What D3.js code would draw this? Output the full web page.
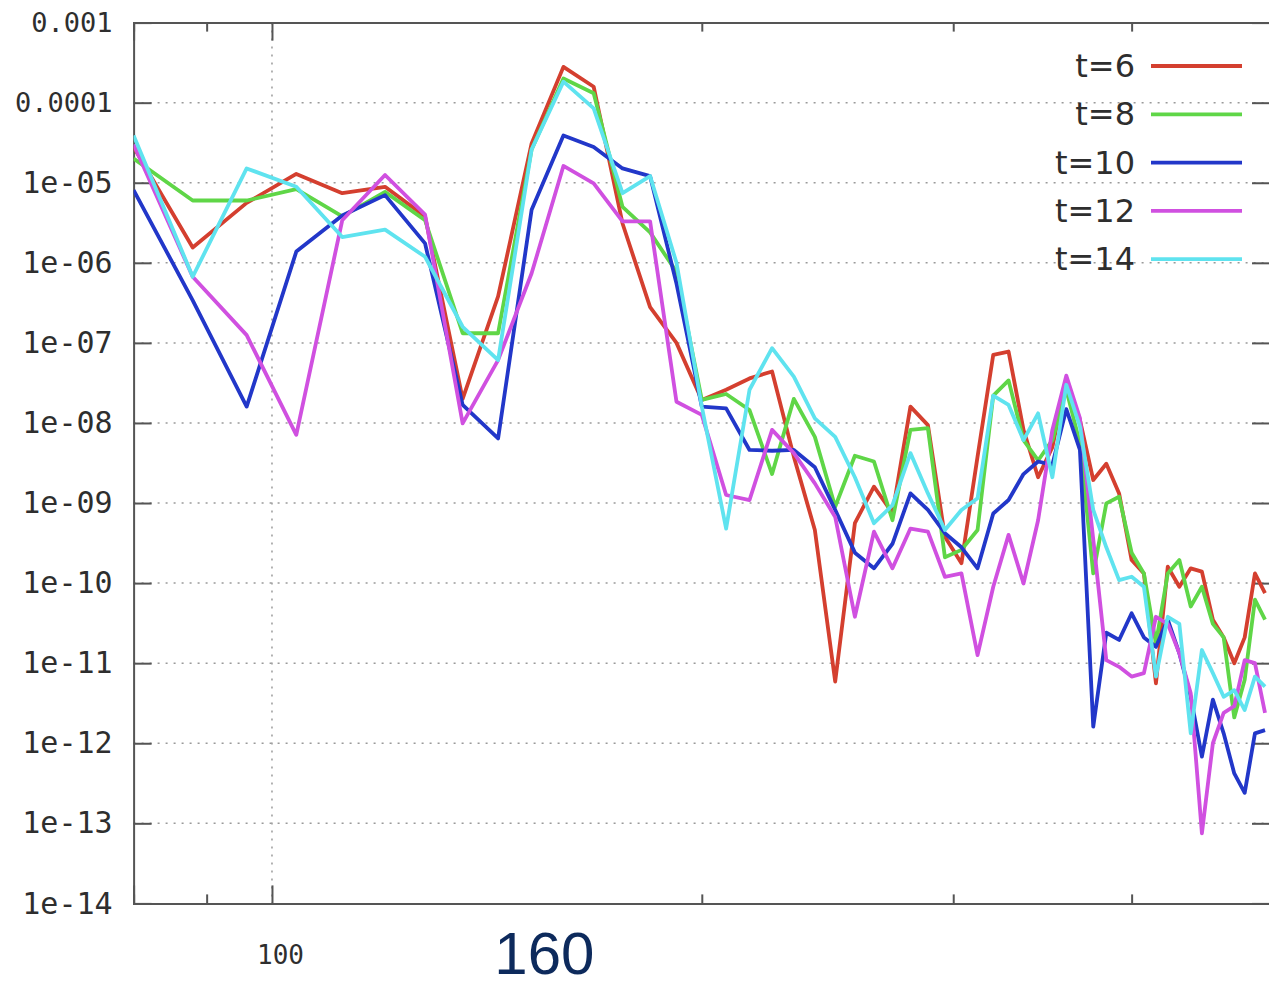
<!DOCTYPE html>
<html>
<head>
<meta charset="utf-8">
<script src="https://cdn.jsdelivr.net/npm/d3@7"></script>
<style>
  body { margin: 0; background: #fff; }
  svg { display: block; }
</style>
</head>
<body>
<div id="chart"></div>
<script>
// x positions of the samples (log axis)
const xValues = [80, 88, 96, 104, 112, 120, 128, 136, 144, 152, 160, 168, 176, 184, 192, 200,
    208, 216, 224, 232, 240, 248, 256, 264, 272, 280, 288, 296, 304, 312, 320, 328, 336, 344,
    352, 360, 368, 376, 384, 392, 400, 408, 416, 424, 432, 440, 448, 456, 464, 472, 480, 488, 496];

const seriesNames = ["t=6", "t=8", "t=10", "t=12", "t=14"];

const t6 = [2.8e-5, 1.55e-6, 5.6e-6, 1.29e-5, 7.4e-6, 8.9e-6, 3.8e-6, 2.0e-8, 3.8e-7, 3.1e-5,
    2.8e-4, 1.58e-4, 3.1e-6, 2.8e-7, 1.0e-7, 1.94e-8, 2.6e-8, 3.6e-8, 4.4e-8, 3.8e-9,
    4.6e-10, 5.9e-12, 5.6e-10, 1.6e-9, 7.5e-10, 1.6e-8, 9.4e-9, 3.8e-10, 1.77e-10, 3.8e-9,
    7.1e-8, 7.8e-8, 8.2e-9, 2.1e-9, 5.0e-9, 3.4e-8, 1.09e-8, 1.94e-9, 3.1e-9, 1.32e-9,
    1.94e-10, 1.32e-10, 5.6e-12, 1.6e-10, 9.0e-11, 1.53e-10, 1.39e-10, 3.5e-11, 2.1e-11, 1.0e-11,
    2.1e-11, 1.32e-10, 7.5e-11];

const t8 = [2.0e-5, 6.0e-6, 6.0e-6, 8.3e-6, 3.8e-6, 7.7e-6, 3.4e-6, 1.32e-7, 1.32e-7, 2.6e-5,
    2.0e-4, 1.31e-4, 5.0e-6, 2.4e-6, 7.7e-7, 1.94e-8, 2.3e-8, 1.45e-8, 2.3e-9, 2.0e-8,
    6.7e-9, 9.0e-10, 3.9e-9, 3.3e-9, 6.1e-10, 8.2e-9, 8.6e-9, 2.1e-10, 2.6e-10, 4.6e-10,
    2.2e-8, 3.4e-8, 6.1e-9, 3.4e-9, 6.1e-9, 2.6e-8, 5.6e-9, 1.32e-10, 9.9e-10, 1.2e-9,
    2.4e-10, 1.32e-10, 1.77e-11, 1.32e-10, 1.94e-10, 5.1e-11, 9.0e-11, 3.1e-11, 2.1e-11, 2.1e-12,
    6.2e-12, 6.2e-11, 3.5e-11];

const t10 = [8.1e-6, 3.4e-7, 1.6e-8, 1.38e-6, 3.9e-6, 7.0e-6, 1.75e-6, 1.68e-8, 6.4e-9, 4.6e-6,
    3.9e-5, 2.8e-5, 1.51e-5, 1.21e-5, 5.5e-7, 1.6e-8, 1.52e-8, 4.6e-9, 4.5e-9, 4.6e-9,
    2.8e-9, 8.2e-10, 2.4e-10, 1.53e-10, 3.1e-10, 1.32e-9, 8.2e-10, 4.2e-10, 2.8e-10, 1.53e-10,
    7.4e-10, 1.09e-9, 2.3e-9, 3.3e-9, 3.0e-9, 1.49e-8, 4.6e-9, 1.61e-12, 2.4e-11, 1.95e-11,
    4.2e-11, 2.1e-11, 1.6e-11, 3.5e-11, 1.33e-11, 3.8e-12, 6.8e-13, 3.5e-12, 1.33e-12, 4.2e-13,
    2.4e-13, 1.33e-12, 1.46e-12];

const t12 = [3.0e-5, 6.7e-7, 1.25e-7, 7.1e-9, 3.4e-6, 1.25e-5, 4.0e-6, 9.9e-9, 6.1e-8, 7.4e-7,
    1.62e-5, 9.8e-6, 3.3e-6, 3.3e-6, 1.84e-8, 1.26e-8, 1.26e-9, 1.09e-9, 8.2e-9, 4.2e-9,
    1.76e-9, 6.7e-10, 3.8e-11, 4.4e-10, 1.53e-10, 4.8e-10, 4.4e-10, 1.2e-10, 1.32e-10, 1.26e-11,
    9.0e-11, 4.0e-10, 9.9e-11, 6.1e-10, 8.2e-9, 3.9e-8, 1.15e-8, 3.5e-10, 1.09e-11, 9.0e-12,
    6.8e-12, 7.5e-12, 3.8e-11, 3.1e-11, 1.33e-11, 4.2e-12, 7.5e-14, 1.0e-12, 2.4e-12, 2.9e-12,
    1.09e-11, 1.0e-11, 2.4e-12];

const t14 = [3.9e-5, 6.7e-7, 1.51e-5, 8.9e-6, 2.1e-6, 2.6e-6, 1.19e-6, 1.59e-7, 6.1e-8, 2.6e-5,
    1.83e-4, 8.5e-5, 7.4e-6, 1.21e-5, 1.0e-6, 1.6e-8, 4.8e-10, 2.6e-8, 8.6e-8, 3.8e-8,
    1.14e-8, 6.7e-9, 2.1e-9, 5.6e-10, 9.4e-10, 4.2e-9, 1.32e-9, 4.6e-10, 8.2e-10, 1.15e-9,
    2.2e-8, 1.68e-8, 6.1e-9, 1.32e-8, 2.1e-9, 3.0e-8, 9.0e-9, 8.2e-10, 2.8e-10, 1.09e-10,
    1.2e-10, 9.0e-11, 6.8e-12, 3.8e-11, 3.1e-11, 1.33e-12, 1.46e-11, 7.5e-12, 3.8e-12, 4.6e-12,
    2.6e-12, 6.8e-12, 5.1e-12];

const yTickValues = [1e-3, 1e-4, 1e-5, 1e-6, 1e-7, 1e-8, 1e-9, 1e-10, 1e-11, 1e-12, 1e-13, 1e-14];
const xMajorTicks = [100];
const xMinorTicks = [90, 200, 300, 400, 500];
const annotation = 160;

const colors = ["#d43f2f", "#5fd647", "#2237c9", "#d050e0", "#5fe3ef"];
const allSeries = [t6, t8, t10, t12, t14];

const W = 1269, H = 988;
const margin = { left: 133.6, top: 22.6, right: 1270, bottom: 903.4 };

const x = d3.scaleLog().domain([80, 500]).range([margin.left, margin.right]);
const y = d3.scaleLog().domain([1e-14, 1e-3]).range([margin.bottom, margin.top]);

const svg = d3.select("#chart").append("svg")
    .attr("width", W)
    .attr("height", H);

svg.append("rect").attr("width", W).attr("height", H).attr("fill", "#fff");

svg.append("clipPath").attr("id", "plot-clip")
    .append("rect")
    .attr("x", margin.left)
    .attr("y", margin.top)
    .attr("width", margin.right - margin.left)
    .attr("height", margin.bottom - margin.top);

// dotted grid
const grid = svg.append("g").attr("class", "grid");
grid.selectAll(".hgrid")
    .data(yTickValues.slice(1, -1))
    .enter().append("line")
    .attr("class", "hgrid")
    .attr("x1", margin.left)
    .attr("x2", margin.right)
    .attr("y1", d => y(d))
    .attr("y2", d => y(d))
    .attr("stroke", "#9a9a9a")
    .attr("stroke-width", 1.5)
    .attr("stroke-dasharray", "2,6");

grid.selectAll(".vgrid")
    .data(xMajorTicks)
    .enter().append("line")
    .attr("class", "vgrid")
    .attr("x1", d => x(d))
    .attr("x2", d => x(d))
    .attr("y1", margin.top)
    .attr("y2", margin.bottom)
    .attr("stroke", "#9a9a9a")
    .attr("stroke-width", 1.5)
    .attr("stroke-dasharray", "2,6");

function fmtY(d) {
    const e = Math.round(Math.log10(d));
    return e >= -4 ? d.toFixed(-e) : "1e-" + String(-e).padStart(2, "0");
}

function styleAxis(g) {
    g.select(".domain").attr("stroke", "#555").attr("stroke-width", 2);
    g.selectAll(".tick line").attr("stroke", "#555").attr("stroke-width", 2);
}

// y axes
const yLeft = svg.append("g")
    .attr("transform", `translate(${margin.left},0)`)
    .call(d3.axisLeft(y).tickValues(yTickValues).tickSize(-18).tickPadding(21).tickFormat(fmtY));
styleAxis(yLeft);
yLeft.selectAll("text")
    .attr("font-family", "'DejaVu Sans Mono', monospace")
    .attr("font-size", d => d >= 1e-4 ? "27px" : "30px")
    .attr("fill", "#2e2e2e");

const yRight = svg.append("g")
    .attr("transform", `translate(${margin.right},0)`)
    .call(d3.axisRight(y).tickValues(yTickValues).tickSize(-18).tickFormat(""));
styleAxis(yRight);

// x axes
const xBottom = svg.append("g")
    .attr("transform", `translate(0,${margin.bottom})`)
    .call(d3.axisBottom(x).tickValues(xMajorTicks).tickSize(-18).tickPadding(42).tickFormat(d3.format("d")));
styleAxis(xBottom);
xBottom.selectAll("text")
    .attr("dx", 8)
    .attr("font-family", "'DejaVu Sans Mono', monospace")
    .attr("font-size", "26px")
    .attr("fill", "#2e2e2e");

const xBottomMinor = svg.append("g")
    .attr("transform", `translate(0,${margin.bottom})`)
    .call(d3.axisBottom(x).tickValues(xMinorTicks).tickSize(-9).tickFormat(""));
styleAxis(xBottomMinor);

const xTop = svg.append("g")
    .attr("transform", `translate(0,${margin.top})`)
    .call(d3.axisTop(x).tickValues(xMajorTicks).tickSize(-18).tickFormat(""));
styleAxis(xTop);

const xTopMinor = svg.append("g")
    .attr("transform", `translate(0,${margin.top})`)
    .call(d3.axisTop(x).tickValues(xMinorTicks).tickSize(-9).tickFormat(""));
styleAxis(xTopMinor);

// series lines
const line = d3.line()
    .x((d, i) => x(xValues[i]))
    .y(d => y(d));

svg.append("g")
    .attr("clip-path", "url(#plot-clip)")
    .selectAll(".series")
    .data(allSeries)
    .enter().append("path")
    .attr("class", "series")
    .attr("fill", "none")
    .attr("stroke", (d, i) => colors[i])
    .attr("stroke-width", 3.8)
    .attr("stroke-linejoin", "round")
    .attr("d", line);

// legend
const legend = svg.append("g").attr("class", "legend");
const legendRows = legend.selectAll(".row")
    .data(seriesNames)
    .enter().append("g")
    .attr("class", "row")
    .attr("transform", (d, i) => `translate(0,${66 + i * 48.3})`);

legendRows.append("text")
    .attr("x", 1135)
    .attr("y", 11)
    .attr("text-anchor", "end")
    .attr("font-family", "'DejaVu Sans', sans-serif")
    .attr("font-size", "32px")
    .attr("fill", "#2e2e2e")
    .text(d => d);

legendRows.append("line")
    .attr("x1", 1151)
    .attr("x2", 1242)
    .attr("stroke", (d, i) => colors[i])
    .attr("stroke-width", 3.8);

// annotation under the axis
svg.append("text")
    .attr("x", x(annotation) - 19)
    .attr("y", 974)
    .attr("text-anchor", "middle")
    .attr("font-family", "'Liberation Sans', Arial, sans-serif")
    .attr("font-size", "60px")
    .attr("fill", "#0d2a5c")
    .text(annotation);
</script>
</body>
</html>
